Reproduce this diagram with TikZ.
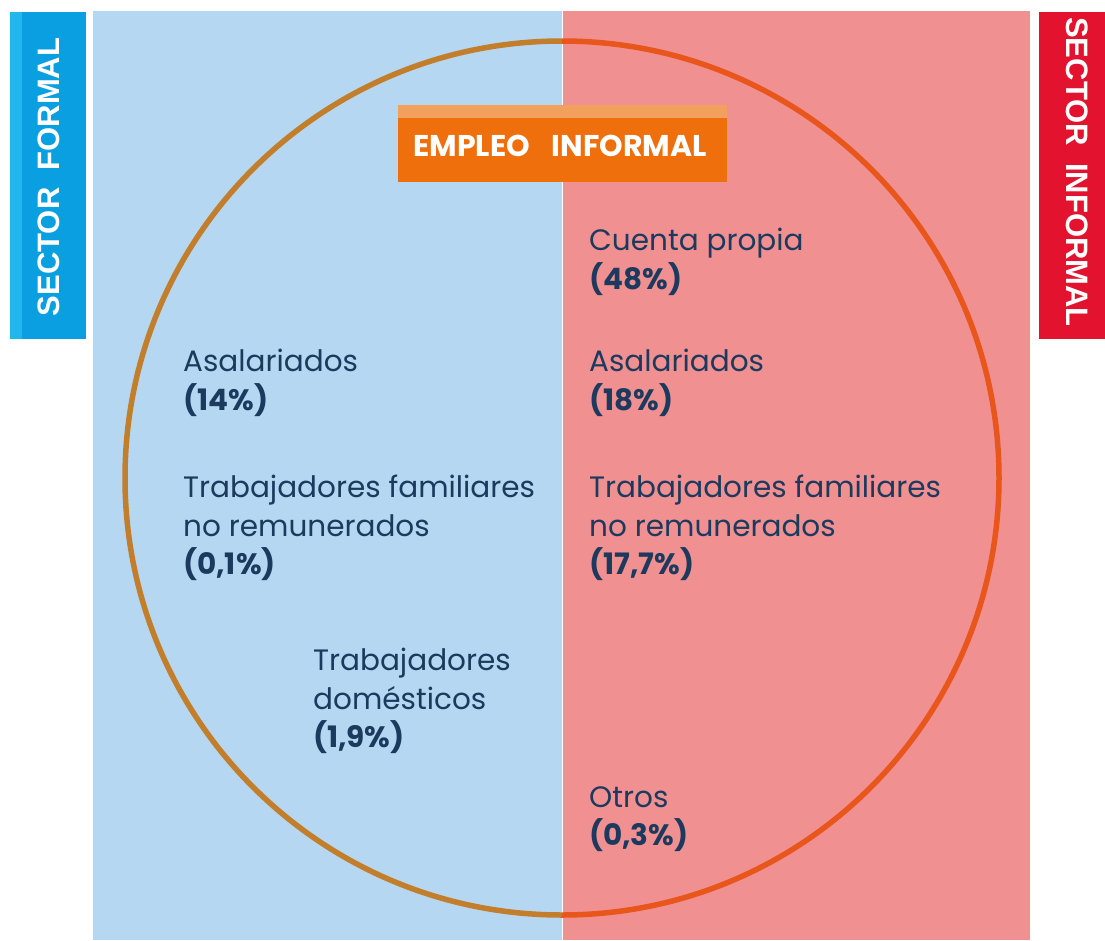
\documentclass[tikz,border=0pt]{standalone}
\usepackage{fontspec}
\setmainfont{Poppins}
\newfontfamily\tabfont{Liberation Sans}
\definecolor{bluepanel}{HTML}{B6D7F1}
\definecolor{redpanel}{HTML}{F19091}
\definecolor{bluetab}{HTML}{0A9FE0}
\definecolor{bluestrip}{HTML}{22B6EE}
\definecolor{redtab}{HTML}{E3132F}
\definecolor{circleft}{HTML}{C27E2B}
\definecolor{circright}{HTML}{E9561B}
\definecolor{boxorange}{HTML}{EE6F0C}
\definecolor{boxstrip}{HTML}{F3A05C}
\definecolor{navy}{HTML}{1C3A5E}
\tikzset{
  lbl/.style={anchor=north west, inner sep=0pt, align=left, text=navy,
    font=\fontsize{29.5}{38.5}\selectfont},
  tabtxt/.style={inner sep=0pt, text=white, font=\tabfont\bfseries\fontsize{31}{31}\selectfont},
  ring/.style={line width=5.5pt}
}
\newcommand{\pct}[1]{\textbf{#1}}
\begin{document}
\begin{tikzpicture}[x=1pt,y=-1pt]
\useasboundingbox (0,0) rectangle (1105,940);
\fill[white] (0,0) rectangle (1105,940);
% panels
\fill[bluepanel] (93,11) rectangle (562,940);
\fill[redpanel] (563,11) rectangle (1030,940);
% tabs
\fill[bluetab] (10,12) rectangle (86,339);
\fill[bluestrip] (10,12) rectangle (22,339);
\fill[redtab] (1039,12) rectangle (1105,339);
\node[tabtxt, rotate=90] (sf) at (49,177) {SECTOR\ \ FORMAL};
\node[tabtxt, rotate=-90] (si) at (1077,172) {SECTOR\ \ INFORMAL};
% circle
\coordinate (c) at (562,478);
\draw[ring, circleft] (562,41) arc[start angle=-90, end angle=-270, radius=437];
\draw[ring, circright] (562,41) arc[start angle=-90, end angle=90, radius=437];
% header box
\fill[boxorange] (398,105) rectangle (727,182);
\fill[boxstrip] (398,105) rectangle (727,118);
\node[inner sep=0pt, text=white, font=\bfseries\fontsize{30}{30}\selectfont] (emp) at (560,146) {EMPLEO\hspace{22pt}INFORMAL};
% labels left
\node[lbl] (la) at (183,349) {Asalariados\\\pct{(14\%)}};
\node[lbl] (lt) at (183,475) {Trabajadores familiares\\no remunerados\\\pct{(0,1\%)}};
\node[lbl] (ld) at (313,648) {Trabajadores\\domésticos\\\pct{(1,9\%)}};
% labels right
\node[lbl] (rc) at (589,228) {Cuenta propia\\\pct{(48\%)}};
\node[lbl] (ra) at (589,349) {Asalariados\\\pct{(18\%)}};
\node[lbl] (rt) at (589,475) {Trabajadores familiares\\no remunerados\\\pct{(17,7\%)}};
\node[lbl] (ro) at (589,786) {Otros\\\pct{(0,3\%)}};
\end{tikzpicture}
\end{document}
